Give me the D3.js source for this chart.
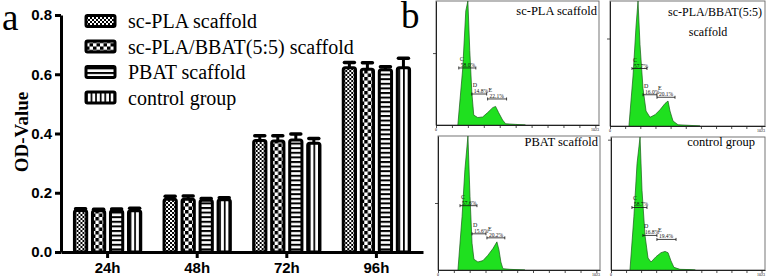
<!DOCTYPE html>
<html>
<head>
<meta charset="utf-8">
<script src="https://cdn.jsdelivr.net/npm/d3@7"></script>
<style>
  body { margin: 0; background: #fff; }
  svg { display: block; }
  .serif { font-family: "Liberation Serif", "Times New Roman", serif; }
  .sans { font-family: "Liberation Sans", Arial, sans-serif; font-weight: bold; }
</style>
</head>
<body>
<svg id="fig"></svg>
<script>
// ---- panel a data ----
const groups = ["24h", "48h", "72h", "96h"];
const seriesNames = ["sc-PLA scaffold", "sc-PLA/BBAT(5:5) scaffold", "PBAT scaffold", "control group"];
// rows = time point, cols = series
const odMean = [
  [0.140, 0.139, 0.139, 0.139],
  [0.178, 0.178, 0.175, 0.176],
  [0.376, 0.375, 0.378, 0.367],
  [0.622, 0.617, 0.615, 0.622]
];
const odErr = [
  [0.006, 0.005, 0.006, 0.009],
  [0.010, 0.011, 0.006, 0.007],
  [0.016, 0.017, 0.020, 0.016],
  [0.018, 0.022, 0.010, 0.032]
];
const yTicks = [0, 0.2, 0.4, 0.6, 0.8];

// ---- panel b data (DNA channel, relative count) ----
const histTitles = ["sc-PLA scaffold", "sc-PLA/BBAT(5:5)", "PBAT scaffold", "control group"];
const histCh = [
  [137, 168, 187, 200, 212, 225, 237, 262, 293, 324, 356, 374, 393, 418, 437, 499, 561],
  [125, 152, 172, 185, 198, 218, 238, 264, 297, 330, 363, 383, 396, 416, 449, 528, 594],
  [126, 152, 170, 189, 202, 215, 227, 252, 284, 315, 347, 372, 385, 397, 410, 454, 549],
  [126, 152, 173, 193, 206, 226, 246, 266, 299, 332, 359, 379, 398, 418, 458, 525, 560]
];
const histCount = [
  [0, 46, 92, 100, 60, 26, 8, 6, 6.5, 10, 14, 15, 10, 4, 1, 0.5, 0],
  [0, 40, 80, 100, 65, 30, 12, 7, 9, 13, 18, 20, 12, 4, 1, 0.5, 0],
  [0, 40, 75, 100, 55, 20, 8, 6, 7, 11, 16, 21, 15, 6, 1, 0.5, 0],
  [0, 40, 80, 100, 60, 26, 9, 6, 10, 13, 14, 13, 7, 2, 0.5, 0.3, 0]
];
const gateC = [[143, 250], [145, 244], [139, 246], [139, 239]];
const gateD = [[225, 318], [218, 310], [215, 303], [212, 305]];
const gateE = [[324, 443], [310, 429], [309, 422], [305, 432]];
const levelC = [46, 46, 48, 47];
const levelD = [25, 25, 27, 26];
const levelE = [21, 23, 24, 23];
const pctC = ["58.0%", "57.7%", "57.6%", "58.7%"];
const pctD = ["14.8%", "16.0%", "15.6%", "16.8%"];
const pctE = ["22.1%", "20.1%", "20.2%", "19.4%"];
const histYTick = [58, 70, 50, 98];

const W = 768, H = 278;
const svg = d3.select("#fig").attr("width", W).attr("height", H);
svg.append("rect").attr("width", W).attr("height", H).attr("fill", "#fff");

// patterns for the bars
const defs = svg.append("defs");
function pattern(id, w, h, draw) {
  const p = defs.append("pattern").attr("id", id)
    .attr("patternUnits", "userSpaceOnUse").attr("width", w).attr("height", h);
  p.append("rect").attr("width", w).attr("height", h).attr("fill", "#fff");
  draw(p);
}
pattern("pFine", 4, 4, p => {
  p.append("rect").attr("width", 2).attr("height", 2).attr("fill", "#000");
  p.append("rect").attr("x", 2).attr("y", 2).attr("width", 2).attr("height", 2).attr("fill", "#000");
});
pattern("pCoarse", 7, 7, p => {
  p.append("rect").attr("width", 3.5).attr("height", 3.5).attr("fill", "#000");
  p.append("rect").attr("x", 3.5).attr("y", 3.5).attr("width", 3.5).attr("height", 3.5).attr("fill", "#000");
});
pattern("pHoriz", 5, 4.6, p => {
  p.append("rect").attr("width", 5).attr("height", 2).attr("fill", "#000");
});
pattern("pVert", 4.6, 5, p => {
  p.append("rect").attr("width", 1.7).attr("height", 5).attr("fill", "#000");
});
const fills = ["url(#pFine)", "url(#pCoarse)", "url(#pHoriz)", "url(#pVert)"];

// ---------- panel a ----------
const x0 = d3.scaleBand().domain(groups).range([61, 423]).paddingInner(0.26).paddingOuter(0.15);
const x1 = d3.scaleBand().domain(d3.range(seriesNames.length)).range([0, x0.bandwidth()]).paddingInner(0.32);
const y = d3.scaleLinear().domain([0, 0.8]).range([252, 15]);

const chart = svg.append("g");

const gGroups = chart.selectAll(".grp").data(groups).join("g")
  .attr("class", "grp")
  .attr("transform", d => `translate(${x0(d)},0)`);

gGroups.each(function (g, gi) {
  const sel = d3.select(this);
  const rows = odMean[gi].map((v, si) => ({ v, e: odErr[gi][si], si }));
  // error bars (upper half only visible)
  sel.selectAll(".err").data(rows).join("line")
    .attr("x1", d => x1(d.si) + x1.bandwidth() / 2)
    .attr("x2", d => x1(d.si) + x1.bandwidth() / 2)
    .attr("y1", d => y(d.v))
    .attr("y2", d => y(d.v + d.e))
    .attr("stroke", "#000").attr("stroke-width", 3);
  sel.selectAll(".cap").data(rows).join("line")
    .attr("x1", d => x1(d.si) + x1.bandwidth() / 2 - 5)
    .attr("x2", d => x1(d.si) + x1.bandwidth() / 2 + 5)
    .attr("y1", d => y(d.v + d.e))
    .attr("y2", d => y(d.v + d.e))
    .attr("stroke", "#000").attr("stroke-width", 3.5).attr("stroke-linecap", "round");
  sel.selectAll(".bar").data(rows).join("rect")
    .attr("x", d => x1(d.si))
    .attr("width", x1.bandwidth())
    .attr("y", d => y(d.v))
    .attr("height", d => y(0) - y(d.v))
    .attr("rx", 2)
    .attr("fill", d => fills[d.si])
    .attr("stroke", "#000").attr("stroke-width", 3);
});

// axes
const yAxisG = chart.append("g")
  .attr("transform", "translate(61,0)")
  .call(d3.axisLeft(y).tickValues(yTicks).tickFormat(d3.format(".1f")).tickSize(6).tickSizeOuter(0).tickPadding(3));
const xAxisG = chart.append("g")
  .attr("transform", "translate(0,252)")
  .call(d3.axisBottom(x0).tickSize(6).tickSizeOuter(0).tickPadding(4));
[yAxisG, xAxisG].forEach(g => {
  g.select(".domain").attr("stroke", "#000").attr("stroke-width", 3);
  g.selectAll(".tick line").attr("stroke", "#000").attr("stroke-width", 3);
  g.selectAll(".tick text").attr("class", "sans").attr("font-size", 15).attr("fill", "#000");
});

// y-axis label
chart.append("text").attr("class", "serif")
  .attr("transform", "translate(28,132) rotate(-90)")
  .attr("text-anchor", "middle")
  .attr("font-size", 19).attr("font-weight", "bold")
  .text("OD-Value");

// panel letters
svg.append("text").attr("class", "serif").attr("x", 2).attr("y", 30)
  .attr("font-size", 37).text("a");
svg.append("text").attr("class", "serif").attr("x", 401).attr("y", 28)
  .attr("font-size", 37).text("b");

// legend
const legend = chart.append("g");
const legRows = legend.selectAll(".leg").data(seriesNames).join("g")
  .attr("transform", (d, i) => `translate(86,${21 + i * 25.5})`);
legRows.append("rect")
  .attr("x", 0).attr("y", -5.5).attr("width", 29).attr("height", 11)
  .attr("fill", (d, i) => fills[i])
  .attr("stroke", "#000").attr("stroke-width", 3).attr("rx", 1.5);
legRows.append("text").attr("class", "serif")
  .attr("x", 42).attr("y", 7)
  .attr("font-size", 20).attr("fill", "#000")
  .text(d => d);

// ---------- panel b ----------
const frames = [
  { x0: 436, x1: 599, y0: 1, y1: 125 },
  { x0: 610, x1: 765, y0: 1, y1: 126 },
  { x0: 438, x1: 600, y0: 136, y1: 270 },
  { x0: 611, x1: 765, y0: 137, y1: 270 }
];

frames.forEach((f, i) => {
  const g = svg.append("g");
  const xh = d3.scaleLinear().domain([0, 1023]).range([f.x0, f.x1]);
  const yh = d3.scaleLinear().domain([0, 100]).range([f.y1, f.y0]);

  g.append("rect").attr("x", f.x0).attr("y", f.y0)
    .attr("width", f.x1 - f.x0).attr("height", f.y1 - f.y0)
    .attr("fill", "none").attr("stroke", "#666").attr("stroke-width", 0.9);

  const pts = histCh[i].map((c, k) => [c, histCount[i][k]]);
  g.append("path").datum(pts)
    .attr("d", d3.area().x(d => xh(d[0])).y0(yh(0)).y1(d => yh(d[1])))
    .attr("fill", "#1fe01f").attr("stroke", "#1a5a1a").attr("stroke-width", 0.7);

  const ax = g.append("g").attr("transform", `translate(0,${f.y1})`)
    .call(d3.axisBottom(xh).tickValues(d3.range(0, 1024, 100)).tickSize(3).tickSizeOuter(0).tickFormat(""));
  const ay = g.append("g").attr("transform", `translate(${f.x0},0)`)
    .call(d3.axisLeft(yh).tickValues([histYTick[i]]).tickSize(3).tickSizeOuter(0).tickFormat(""));
  [ax, ay].forEach(a => {
    a.select(".domain").attr("stroke", "#222").attr("stroke-width", 1);
    a.selectAll(".tick line").attr("stroke", "#222").attr("stroke-width", 0.8);
  });
  g.append("text").attr("class", "serif").attr("x", xh(0)).attr("y", f.y1 + 6)
    .attr("font-size", 4).attr("text-anchor", "middle").text("0");
  g.append("text").attr("class", "serif").attr("x", xh(1023) - 4).attr("y", f.y1 + 6)
    .attr("font-size", 4).attr("text-anchor", "middle").text("1023");

  // gates
  const gates = [
    { r: gateC[i], lv: levelC[i], name: "C", pct: pctC[i] },
    { r: gateD[i], lv: levelD[i], name: "D", pct: pctD[i] },
    { r: gateE[i], lv: levelE[i], name: "E", pct: pctE[i] }
  ];
  gates.forEach(q => {
    const yy = yh(q.lv);
    g.append("line").attr("x1", xh(q.r[0])).attr("x2", xh(q.r[1]))
      .attr("y1", yy).attr("y2", yy).attr("stroke", "#111").attr("stroke-width", 0.8);
    [q.r[0], q.r[1]].forEach(c => {
      g.append("line").attr("x1", xh(c)).attr("x2", xh(c))
        .attr("y1", yy - 1.5).attr("y2", yy + 1.5).attr("stroke", "#111").attr("stroke-width", 0.8);
    });
    g.append("text").attr("class", "serif").attr("x", xh(q.r[0]) + 1).attr("y", yy - 7)
      .attr("font-size", 6).attr("fill", "#111").text(q.name);
    g.append("text").attr("class", "serif").attr("x", xh(q.r[0]) + 2).attr("y", yy - 1)
      .attr("font-size", 5.5).attr("fill", "#111").text(q.pct);
  });
});

// titles inside histogram frames
svg.append("text").attr("class", "serif").attr("x", 597).attr("y", 15)
  .attr("font-size", 12.5).attr("text-anchor", "end").text(histTitles[0]);
svg.append("text").attr("class", "serif").attr("x", 762).attr("y", 16)
  .attr("font-size", 12).attr("text-anchor", "end").text(histTitles[1]);
svg.append("text").attr("class", "serif").attr("x", 708).attr("y", 36)
  .attr("font-size", 12).attr("text-anchor", "middle").text("scaffold");
svg.append("text").attr("class", "serif").attr("x", 598).attr("y", 146)
  .attr("font-size", 12.5).attr("text-anchor", "end").text(histTitles[2]);
svg.append("text").attr("class", "serif").attr("x", 755).attr("y", 146)
  .attr("font-size", 12.5).attr("text-anchor", "end").text(histTitles[3]);
</script>
</body>
</html>
